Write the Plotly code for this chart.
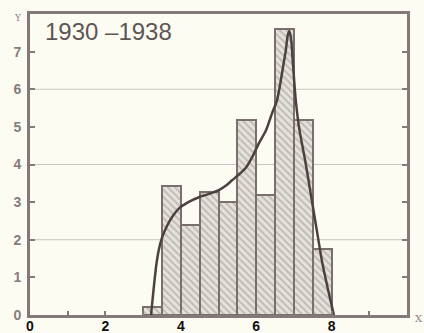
import plotly.graph_objects as go

# Histogram data (bins of width 0.5)
bin_left = [3.0, 3.5, 4.0, 4.5, 5.0, 5.5, 6.0, 6.5, 7.0, 7.5]
bin_width = 0.5
bar_heights = [0.2, 3.42, 2.4, 3.27, 3.0, 5.18, 3.18, 7.6, 5.18, 1.75]

# Fitted curve
curve_x = [3.21, 3.28, 3.35, 3.42, 3.5, 3.65, 3.8, 3.96, 4.2, 4.48, 4.75, 5.01, 5.2, 5.36,
           5.55, 5.73, 5.89, 6.07, 6.26, 6.42, 6.55, 6.63, 6.71, 6.78, 6.84, 6.88, 6.93,
           6.98, 7.05, 7.15, 7.3, 7.45, 7.6, 7.75, 7.9, 8.06]
curve_y = [0.0, 0.7, 1.33, 1.75, 2.05, 2.4, 2.65, 2.84, 3.0, 3.13, 3.22, 3.32, 3.44, 3.58,
           3.74, 3.92, 4.19, 4.56, 4.91, 5.36, 5.7, 6.1, 6.58, 7.0, 7.45, 7.55, 7.3,
           6.6, 5.7, 4.9, 4.1, 3.2, 2.3, 1.4, 0.7, 0.0]

x_tickvals = [0, 1, 2, 3, 4, 5, 6, 7, 8, 9]
x_ticktext = ["0", "", "2", "", "4", "", "6", "", "8", ""]
y_tickvals = [0, 1, 2, 3, 4, 5, 6, 7]
y_ticktext = ["0", "1", "2", "3", "4", "5", "6", "7"]
title_text = "1930 –1938"

bg = "#fcfcf3"
frame = "#857878"

bar_centers = [b + bin_width / 2 for b in bin_left]

fig = go.Figure()
fig.add_trace(go.Bar(
    x=bar_centers, y=bar_heights, width=bin_width,
    marker=dict(
        color="#e4e2da",
        line=dict(color="#7a6e6e", width=2),
        pattern=dict(shape="\\", fgcolor="#968e8c", bgcolor="#e4e2da", size=5, solidity=0.35),
    ),
    hoverinfo="skip",
))
fig.add_trace(go.Scatter(
    x=curve_x, y=curve_y, mode="lines",
    line=dict(color="#4d4040", width=2.5, shape="spline", smoothing=0.6),
    hoverinfo="skip",
))

fig.update_layout(
    width=424, height=333,
    margin=dict(l=30, r=17, t=14, b=18),
    paper_bgcolor=bg, plot_bgcolor=bg,
    showlegend=False,
    bargap=0,
    font=dict(family="Liberation Sans, Arial, sans-serif"),
    xaxis=dict(
        range=[0, 10], tickvals=x_tickvals, ticktext=x_ticktext,
        ticks="inside", ticklen=4, tickwidth=1.5, tickcolor=frame,
        showline=True, linecolor=frame, linewidth=3, mirror=True,
        showgrid=False, zeroline=False, automargin=False,
        tickfont=dict(size=14, color="#111111", family="Liberation Sans, Arial, sans-serif",
                      weight="bold"),
        ticklabelstandoff=-4,
    ),
    yaxis=dict(
        range=[0, 8], tickvals=y_tickvals, ticktext=y_ticktext,
        ticks="inside", ticklen=5, tickwidth=1.5, tickcolor=frame,
        showline=True, linecolor=frame, linewidth=3, mirror="ticks",
        showgrid=False, zeroline=False, automargin=False,
        tickfont=dict(size=14, color="#877c7c", family="Liberation Sans, Arial, sans-serif",
                      weight="bold"),
        ticklabelstandoff=3,
    ),
)

fig.add_annotation(text=title_text, x=0.035, y=0.995, xref="paper", yref="paper",
                   xanchor="left", yanchor="top", showarrow=False,
                   font=dict(size=24, color="#5f5555"))

# gridlines at 2, 4, 6
for gv in [2, 4, 6]:
    fig.add_hline(y=gv, line=dict(color="#c9c5c0", width=1), layer="below")

fig.add_annotation(text="Y", x=-0.048, y=1.01, xref="paper", yref="paper",
                   showarrow=False, font=dict(size=9, color="#8a8080", family="DejaVu Serif"))
fig.add_annotation(text="X", x=1.0, y=-0.035, xref="paper", yref="paper",
                   xanchor="left", xshift=6,
                   showarrow=False, font=dict(size=10, color="#8a8080", family="DejaVu Serif"))

fig.write_html("out.html")
